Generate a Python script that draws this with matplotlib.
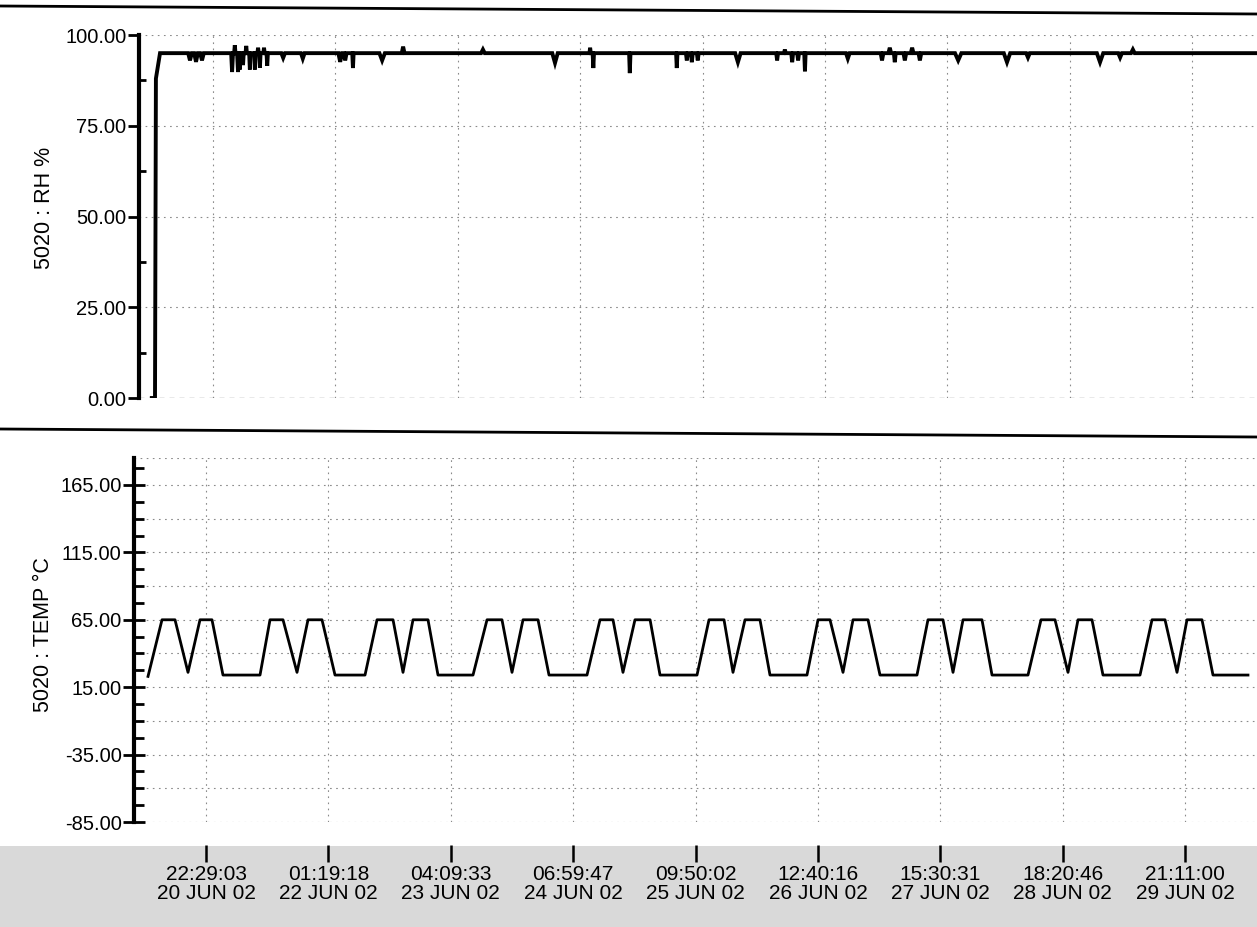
import numpy as np
import pandas as pd
import matplotlib
matplotlib.use("Agg")
import matplotlib.pyplot as plt
from matplotlib.lines import Line2D
from matplotlib.patches import Rectangle

# Arial-like face, narrower than DejaVu
plt.rcParams['font.family'] = ['Liberation Sans', 'DejaVu Sans']

# ---- data (hours since logger start, 20 JUN 02 09:46) ----
t_start = pd.Timestamp("2002-06-20 09:46:00")
tick_times = ["2002-06-20 22:29:03", "2002-06-22 01:19:18", "2002-06-23 04:09:33",
              "2002-06-24 06:59:47", "2002-06-25 09:50:02", "2002-06-26 12:40:16",
              "2002-06-27 15:30:31", "2002-06-28 18:20:46", "2002-06-29 21:11:00"]
tick_labels = ["22:29:03\n20 JUN 02", "01:19:18\n22 JUN 02", "04:09:33\n23 JUN 02",
               "06:59:47\n24 JUN 02", "09:50:02\n25 JUN 02", "12:40:16\n26 JUN 02",
               "15:30:31\n27 JUN 02", "18:20:46\n28 JUN 02", "21:11:00\n29 JUN 02"]

temp_t = [0.00, 3.07, 5.92, 8.77, 11.40, 14.03, 16.44,
          24.56, 26.75, 29.60, 32.67, 35.08, 38.15, 41.00,
          47.58, 50.21, 53.72, 55.91, 58.10, 61.39, 63.58,
          71.26, 74.33, 77.61, 79.81, 82.22, 85.51, 87.92,
          96.25, 99.10, 101.95, 104.14, 106.77, 110.08, 112.26,
          120.37, 123.00, 126.29, 128.26, 130.89, 134.18, 136.37,
          144.48, 146.90, 149.53, 152.38, 154.57, 157.86, 160.49,
          168.60, 171.01, 174.30, 176.50, 178.69, 182.85, 185.05,
          192.94, 195.79, 198.86, 201.71, 203.90, 206.97, 209.38,
          217.50, 220.13, 222.98, 225.61, 227.80, 231.09, 233.50,
          241.17]
temp_v = [23, 65, 65, 26, 65, 65, 24,
          24, 65, 65, 26, 65, 65, 24,
          24, 65, 65, 26, 65, 65, 24,
          24, 65, 65, 26, 65, 65, 24,
          24, 65, 65, 26, 65, 65, 24,
          24, 65, 65, 26, 65, 65, 24,
          24, 65, 65, 26, 65, 65, 24,
          24, 65, 65, 26, 65, 65, 24,
          24, 65, 65, 26, 65, 65, 24,
          24, 65, 65, 26, 65, 65, 24,
          24]

rh_t = [-0.7, 0.0, 0.2, 1.1, 241.3]
rh_v = [0, 0, 88, 95, 95]
rh_base = 95
spike_t = [7.67, 8.99, 10.3, 16.9, 17.5, 18.2, 18.6, 19.3, 20.0, 20.8, 21.9, 22.6, 23.0,
           23.9, 24.6, 28.1, 32.4, 40.6, 41.7, 43.4, 49.8, 54.4, 71.9, 87.7, 95.4, 96.1,
           104.1, 114.4, 116.6, 117.7, 119.0, 127.8, 136.4, 138.1, 139.7, 141.0, 142.5,
           151.9, 159.4, 161.1, 162.2, 164.4, 166.0, 167.7, 176.1, 186.8, 191.4, 207.2,
           211.6, 214.4]
spike_v = [93, 92.6, 93, 89.8, 97.2, 89.8, 90.5, 91.7, 97, 90.5, 90.5, 96.5, 91,
           96.5, 91.5, 93.7, 93.5, 92.6, 93, 90.9, 93, 96.8, 96, 92.3, 96.5, 90.9,
           89.5, 90.9, 93, 92.5, 93, 92.5, 93, 96, 92.5, 93, 90,
           93.5, 93, 96.5, 92.5, 93, 96.5, 93, 93, 92.5, 93.8, 92.5,
           93.8, 96]
spike_w = [0.4, 0.4, 0.4, 0.2, 0.15, 0.2, 0.15, 0.15, 0.15, 0.15, 0.15, 0.15, 0.15,
           0.15, 0.15, 0.4, 0.4, 0.4, 0.3, 0.15, 0.6, 0.3, 0.4, 0.6, 0.15, 0.15,
           0.15, 0.15, 0.2, 0.2, 0.2, 0.6, 0.2, 0.2, 0.2, 0.2, 0.15,
           0.4, 0.3, 0.3, 0.2, 0.3, 0.3, 0.3, 0.7, 0.7, 0.4, 0.7,
           0.4, 0.4]

rh_ticks = [0, 25, 50, 75, 100]
temp_ticks = [-85, -35, 15, 65, 115, 165]
temp_grid = [-85, -60, -35, -10, 15, 40, 65, 90, 115, 140, 165, 185]

# build RH line with spikes on the baseline
pts = list(zip(rh_t, rh_v))
for t, v, w in zip(spike_t, spike_v, spike_w):
    pts += [(t - w, rh_base), (t, v), (t + w, rh_base)]
pts.sort()
rx = [p[0] for p in pts]
ry = [p[1] for p in pts]

xt = [(pd.Timestamp(s) - t_start).total_seconds() / 3600 for s in tick_times]

W, H = 1257, 927
def rect(l, t, r, b):
    return [l / W, 1 - b / H, (r - l) / W, (b - t) / H]

fig = plt.figure(figsize=(W / 100, H / 100), dpi=100)

# scanned grey strip and rules
fig.add_artist(Rectangle((0, 0), 1, 1 - 846 / H, transform=fig.transFigure,
                         facecolor='#d9d9d9', edgecolor='none', zorder=0))
fig.add_artist(Line2D([0, 1], [1 - 6 / H, 1 - 14 / H], transform=fig.transFigure, color='black', lw=2))
fig.add_artist(Line2D([0, 1], [1 - 429 / H, 1 - 437 / H], transform=fig.transFigure, color='black', lw=2))

px_per_h = 4.561
ax1 = fig.add_axes(rect(139, 35, 1257, 398))
ax2 = fig.add_axes(rect(134, 458, 1257, 822))
ax1.set_xlim(-16 / px_per_h, (1257 - 155) / px_per_h)
ax2.set_xlim(-14 / px_per_h, (1257 - 148) / px_per_h)
ax1.set_ylim(0, 100)
ax2.set_ylim(-85, 185)

grid_kw = dict(color='#8a8a8a', lw=0.8, ls=(0, (1.5, 4)), zorder=1)
for ax in (ax1, ax2):
    for s in ('top', 'right', 'bottom'):
        ax.spines[s].set_visible(False)
    ax.spines['left'].set_linewidth(3)
    ax.set_facecolor('none')
    ax.set_xticks([])
    for x in xt:
        ax.axvline(x, **grid_kw)

for y in rh_ticks:
    if y == 0:
        ax1.axhline(y, color='#555555', lw=0.9, ls=(0, (4, 4)), zorder=1)
    else:
        ax1.axhline(y, **grid_kw)
for y in temp_grid:
    ax2.axhline(y, **grid_kw)

ax1.plot(rx, ry, color='black', lw=2.8, solid_joinstyle='miter', zorder=3)
ax2.plot(temp_t, temp_v, color='black', lw=2.0, zorder=3)

tick_font = dict(family='Liberation Sans', fontsize=14.5)
ax1.set_yticks(rh_ticks)
ax1.set_yticklabels(['%.2f' % v for v in rh_ticks], **tick_font)
ax1.set_yticks(np.arange(12.5, 100, 25), minor=True)
ax1.tick_params(axis='y', which='major', direction='out', length=8, width=2, pad=1)
ax1.tick_params(axis='y', which='minor', direction='in', length=5, width=2)

ax2.set_yticks(temp_ticks)
ax2.set_yticklabels(['%.2f' % v for v in temp_ticks], **tick_font)
ax2.set_yticks(np.arange(-85, 186, 12.5), minor=True)
ax2.tick_params(axis='y', which='major', direction='inout', length=16, width=2, pad=1)
ax2.tick_params(axis='y', which='minor', direction='in', length=7, width=2)

fig.text(45 / W, 1 - 208 / H, '5020 : RH %', rotation=90, ha='center', va='center', fontsize=15.5)
fig.text(44 / W, 1 - 635 / H, '5020 : TEMP \u00b0C', rotation=90, ha='center', va='center', fontsize=15.5)

# time axis under the panels
ax3 = fig.add_axes(rect(134, 850, 1257, 862))
ax3.set_xlim(ax2.get_xlim())
ax3.set_facecolor('none')
for s in ax3.spines.values():
    s.set_visible(False)
ax3.set_yticks([])
ax3.set_xticks(xt)
ax3.set_xticklabels(tick_labels, family='Liberation Sans', fontsize=15, linespacing=1.0)
ax3.tick_params(axis='x', direction='in', length=12, width=1.8, pad=2)

fig.savefig('out.png', dpi=100)
